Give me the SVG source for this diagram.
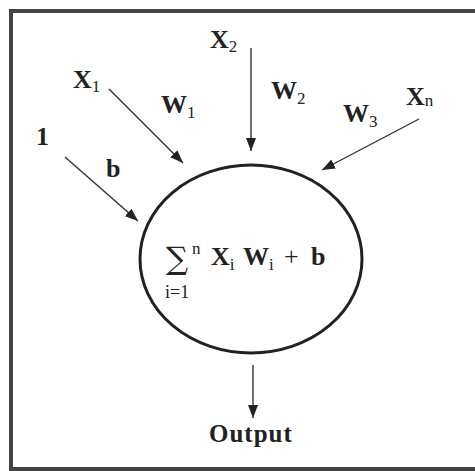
<svg xmlns="http://www.w3.org/2000/svg" width="475" height="471" viewBox="0 0 475 471">
<style>
.t{font-family:"Liberation Serif","Times New Roman",serif;font-weight:bold;font-size:26px;fill:#222}
.s{font-family:"Liberation Serif","Times New Roman",serif;font-weight:normal;font-size:17px;fill:#222}
.c{stroke:#333;stroke-width:1.4;fill:none;marker-end:url(#ah)}
</style>
<defs>
<marker id="ah" markerUnits="userSpaceOnUse" markerWidth="14" markerHeight="10" refX="13" refY="5" orient="auto">
<path d="M0,0 L13,5 L0,10 z" fill="#222"/>
</marker>
</defs>
<rect x="0" y="0" width="475" height="471" fill="#fff"/>
<path d="M476,11 H11 V469 H476" fill="none" stroke="#444" stroke-width="4"/>
<g id="neuron">
<ellipse cx="251" cy="259" rx="111" ry="94" fill="none" stroke="#222" stroke-width="3"/>
<text x="166" y="269" style="font-family:'DejaVu Serif',serif;font-size:31px;fill:#222">∑</text>
<text x="192" y="254" class="s">n</text>
<text x="211" y="265" class="t">X<tspan class="s" dy="5">i</tspan></text>
<text x="243" y="265" class="t">W<tspan class="s" dy="5">i</tspan></text>
<text x="284" y="265" class="t" style="font-weight:normal">+</text>
<text x="311" y="265" class="t">b</text>
<text x="165" y="298" class="s" style="font-size:18px">i=1</text>
</g>
<g id="in1"><text x="36" y="145" class="t">1</text></g>
<g id="inX1"><text x="73" y="88" class="t">X<tspan class="s" dy="4">1</tspan></text></g>
<g id="inX2"><text x="210" y="48" class="t">X<tspan class="s" dy="4">2</tspan></text></g>
<g id="inXn"><text x="406" y="105" class="t">X<tspan class="s" dy="1">n</tspan></text></g>
<g id="labels">
<text x="106" y="177" class="t">b</text>
<text x="161" y="113" class="t">W<tspan class="s" dy="5">1</tspan></text>
<text x="271" y="99" class="t">W<tspan class="s" dy="5">2</tspan></text>
<text x="343" y="122" class="t">W<tspan class="s" dy="5">3</tspan></text>
</g>
<g id="output"><text x="209" y="442" class="t" style="font-size:25px;letter-spacing:1px">Output</text></g>
<g id="connectors">
<line x1="65" y1="157" x2="138" y2="221" class="c"/>
<line x1="109" y1="89" x2="183" y2="163" class="c"/>
<line x1="251" y1="48" x2="251" y2="151" class="c"/>
<line x1="419" y1="119" x2="322" y2="170" class="c"/>
<line x1="253" y1="365" x2="253" y2="418" class="c"/>
</g>
</svg>
